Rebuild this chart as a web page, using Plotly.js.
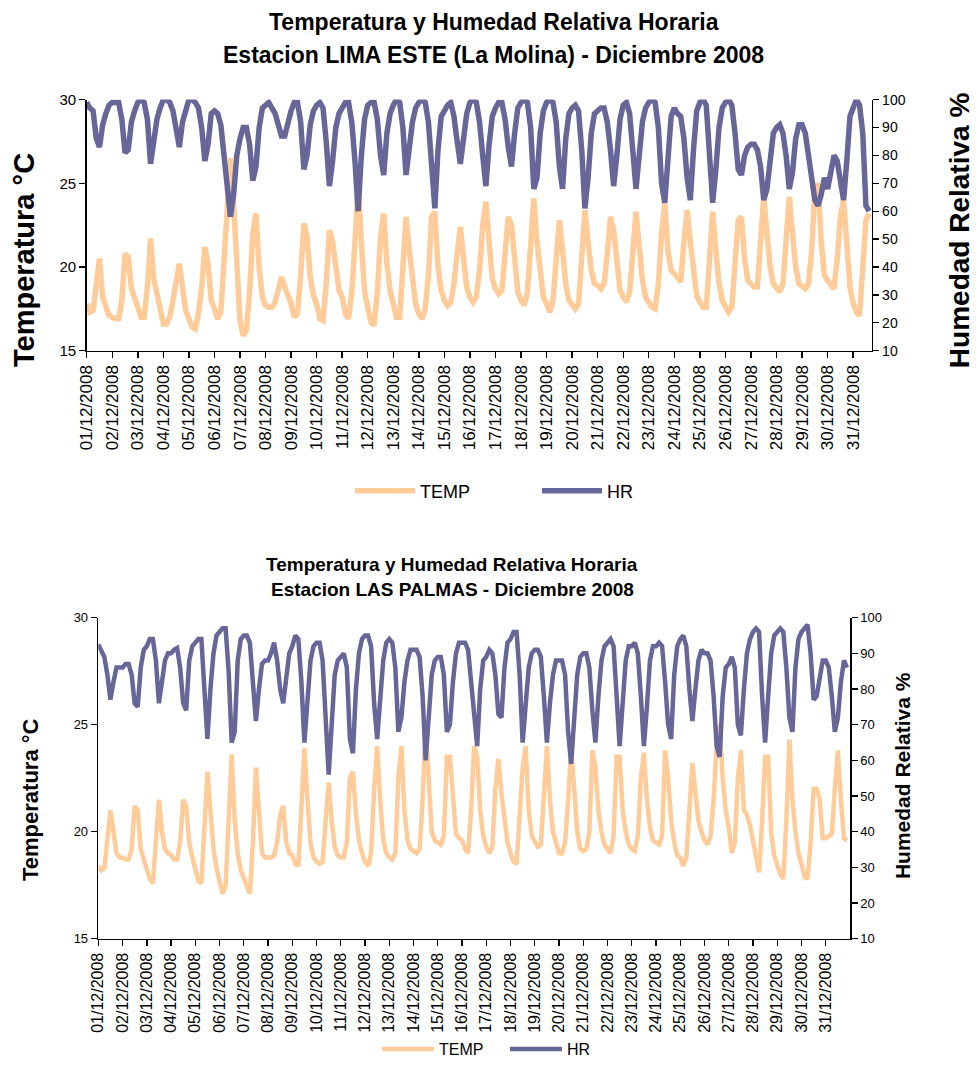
<!DOCTYPE html>
<html><head><meta charset="utf-8">
<script src="https://cdn.plot.ly/plotly-3.0.1.min.js"></script>
<style>html,body{margin:0;padding:0;background:#fff;}#chart{width:976px;height:1066px;}</style>
</head><body><div id="chart"></div>
<script>
// Day tick labels
const dayLabels = ["01/12/2008","02/12/2008","03/12/2008","04/12/2008","05/12/2008","06/12/2008","07/12/2008","08/12/2008","09/12/2008","10/12/2008","11/12/2008","12/12/2008","13/12/2008","14/12/2008","15/12/2008","16/12/2008","17/12/2008","18/12/2008","19/12/2008","20/12/2008","21/12/2008","22/12/2008","23/12/2008","24/12/2008","25/12/2008","26/12/2008","27/12/2008","28/12/2008","29/12/2008","30/12/2008","31/12/2008"];

// Readings every 3 hours (00,03,06,09,12,15,18,21 h), one row per day
// Estacion LIMA ESTE (La Molina)
const tempLaMolina = [
17.8,17.3,17.4,19.2,20.5,18.2,17.7,17.1,
17.0,16.9,16.9,18.0,20.8,20.6,18.7,18.0,
17.6,17.0,17.0,18.8,21.7,19.3,18.3,17.2,
16.6,16.6,17.0,18.0,19.3,20.2,18.8,17.4,
16.9,16.4,16.3,17.2,18.8,21.2,20.2,18.0,
17.5,16.9,17.3,20.5,24.5,26.5,23.8,19.5,
16.8,15.9,16.2,18.5,22.0,23.2,20.0,18.2,
17.7,17.6,17.6,17.9,18.8,19.4,18.8,18.3,
17.8,17.0,17.2,19.5,22.6,21.8,19.4,18.3,
17.8,16.9,16.8,19.0,22.2,21.5,20.0,18.6,
18.2,17.2,16.9,18.5,21.5,25.0,21.5,18.5,
17.6,16.7,16.5,18.5,21.8,23.2,20.2,18.6,
17.8,17.0,17.0,20.0,23.0,21.0,19.0,17.8,
17.2,16.9,17.5,19.5,23.0,23.3,20.0,18.6,
18.0,17.7,17.9,19.0,20.8,22.4,20.5,18.8,
18.2,17.9,18.2,19.8,22.5,23.9,21.5,19.3,
18.7,18.4,18.6,20.5,23.0,22.5,20.0,18.5,
18.0,17.7,18.5,21.5,24.1,21.5,19.5,18.2,
17.8,17.3,18.0,20.5,22.8,21.0,19.0,18.0,
17.8,17.5,17.8,21.0,23.4,21.5,19.8,19.0,
18.9,18.7,19.0,20.8,23.0,22.2,20.0,18.6,
18.2,17.9,18.5,21.0,23.3,21.2,19.2,18.2,
17.9,17.6,17.5,19.0,22.0,23.8,21.0,19.8,
19.6,19.3,19.1,21.5,23.4,21.5,19.5,18.3,
17.9,17.6,17.6,20.5,23.3,21.0,19.0,18.0,
17.6,17.3,17.6,19.8,22.8,23.0,20.5,19.2,
19.0,18.8,18.8,21.5,24.2,22.0,20.0,19.0,
18.8,18.5,19.0,21.8,24.2,22.0,20.0,19.0,
18.8,18.7,19.0,21.0,24.5,25.0,21.5,19.5,
19.2,18.9,18.7,20.5,23.0,24.0,21.0,18.8,
17.8,17.3,17.1,19.5,22.8,23.2
];
const hrLaMolina = [
99,97,96,86,83,91,95,98,
99,99,99,93,81,82,92,96,
99,100,99,93,77,85,93,97,
100,100,99,96,88,83,92,97,
100,100,99,97,90,78,84,95,
96,95,91,80,66,58,66,80,
86,90,90,84,71,76,90,97,
98,99,97,95,91,87,87,92,
96,99,99,92,75,80,91,96,
98,99,97,85,69,78,90,95,
97,99,99,92,78,60,80,93,
98,99,99,93,80,73,88,95,
98,100,99,90,73,82,92,97,
99,100,99,92,78,61,82,94,
96,98,99,94,85,77,86,95,
99,100,99,92,80,69,84,94,
97,99,99,93,83,76,88,97,
99,100,99,90,68,72,88,96,
99,100,99,92,76,68,86,95,
97,98,96,82,61,72,88,95,
96,97,97,92,82,69,80,93,
98,99,95,82,68,80,92,97,
99,100,99,90,70,63,82,94,
97,95,94,86,72,64,82,96,
99,100,98,82,63,75,90,97,
99,100,98,88,75,73,80,83,
84,84,82,76,64,68,80,88,
90,91,88,80,68,74,86,91,
91,88,80,72,64,62,66,72,
68,74,80,78,70,64,78,94,
97,100,98,88,62,60
];

// Estacion LAS PALMAS
const tempLasPalmas = [
18.4,18.2,18.3,19.5,21.0,20.0,19.0,18.8,
18.8,18.7,18.7,19.2,21.2,21.0,19.2,18.7,
18.2,17.8,17.6,19.5,21.5,20.0,19.2,19.0,
18.9,18.7,18.7,19.5,21.5,21.2,19.5,18.8,
18.2,17.7,17.6,20.0,22.8,21.0,19.2,18.3,
17.6,17.1,17.5,20.5,23.6,20.5,19.0,18.2,
17.8,17.4,17.1,19.5,23.0,21.0,19.0,18.8,
18.8,18.8,18.9,19.5,20.8,21.2,19.5,19.0,
18.9,18.5,18.4,21.0,23.9,21.5,19.5,18.8,
18.6,18.5,18.6,20.5,22.3,20.5,19.3,18.9,
18.8,18.8,19.5,22.5,22.8,20.8,19.6,19.0,
18.6,18.4,19.0,22.0,24.0,21.5,19.6,19.0,
18.8,18.7,19.0,22.5,24.0,21.0,19.6,19.2,
19.1,19.0,19.2,21.5,25.0,22.5,20.0,19.6,
19.5,19.4,19.8,23.5,23.5,21.5,19.9,19.7,
19.6,19.2,19.0,21.0,24.0,23.5,21.0,19.8,
19.3,19.0,19.3,22.0,23.4,21.8,20.5,19.5,
19.0,18.6,18.5,20.5,23.0,24.0,21.0,19.8,
19.5,19.3,19.4,21.5,24.0,21.5,20.0,19.5,
19.0,19.0,19.5,21.5,23.9,22.0,20.0,19.2,
19.1,19.2,20.0,23.8,23.0,21.0,20.0,19.4,
19.2,19.0,19.8,23.5,23.5,21.0,20.0,19.4,
19.2,19.1,19.8,22.5,23.7,21.5,20.2,19.6,
19.5,19.4,19.8,23.8,22.5,20.5,19.5,18.9,
18.8,18.4,18.8,21.0,23.2,21.8,20.5,20.0,
19.6,19.4,19.8,21.5,24.0,25.0,22.5,21.0,
20.2,19.0,19.5,22.5,23.8,21.0,20.8,20.3,
19.5,18.6,18.1,20.5,23.5,23.5,20.0,18.9,
18.5,18.0,17.8,20.5,24.3,21.5,20.0,19.0,
18.5,17.9,17.8,19.5,22.0,22.0,21.5,19.7,
19.7,19.8,19.9,22.0,23.8,21.5,19.7,19.6
];
const hrLasPalmas = [
92.5,91,89,84,77,82,86,86,
86,87,87,84,76,75,86,91,
92,94,94,88,76,82,88,90,
90,91,91.5,86,76,74,88,92,
93,94,94,82,66,80,90,95,
96,97,97,85,65,68,88,94,
95,95,93,82,71,80,87,88,
88,90,93,88,80,76,84,90,
92,95,94,82,65,78,88,92,
93,93,88,72,56,70,84,88,
89,90,86,66,62,80,90,94,
95,95,92,76,66,78,88,93,
94,93,86,68,72,82,88,91,
91,91,89,78,60,72,84,88,
89,89,84,68,70,82,90,93,
93,93,91,82,70,64,80,88,
89,91,90,84,73,72,86,93,
94,96,96,84,65,76,86,90,
91,91,89,78,65,76,84,88,
88,88,84,68,59,74,84,89,
90,90,86,74,65,78,88,92,
93,94,92,80,64,76,88,92,
92,93,90,78,64,75,88,92,
92,93,92,82,70,66,84,92,
94,95,92,80,71,80,88,91,
90,90,88,78,64,61,78,86,
87,89,86,70,67,80,90,94,
96,97,96,78,65,78,90,95,
96,97,96,86,72,68,86,94,
96,97,98,90,77,78,84,88,
88,86,78,68,72,82,88,86
];

const STEP_HOURS = 3;
const tempTicks = [15, 20, 25, 30];
const hrTicks = [10, 20, 30, 40, 50, 60, 70, 80, 90, 100];

const W = 976, H = 1066;
const fx = p => p / W;
const fy = p => 1 - p / H;
const hoursOf = arr => arr.map((_, i) => i * STEP_HOURS);
const dayTickPos = dayLabels.map((_, i) => i * 24);

const FONT = 'Liberation Sans, Arial, sans-serif';
const TEMP_COLOR = '#FFCC99';
const HR_COLOR = '#666699';

const traces = [
  {x: hoursOf(tempLaMolina), y: tempLaMolina, name: 'TEMP', type: 'scatter', mode: 'lines',
   line: {color: TEMP_COLOR, width: 5.5}, xaxis: 'x', yaxis: 'y', legend: 'legend'},
  {x: hoursOf(hrLaMolina), y: hrLaMolina, name: 'HR', type: 'scatter', mode: 'lines',
   line: {color: HR_COLOR, width: 5.5}, xaxis: 'x', yaxis: 'y2', legend: 'legend'},
  {x: hoursOf(tempLasPalmas), y: tempLasPalmas, name: 'TEMP', type: 'scatter', mode: 'lines',
   line: {color: TEMP_COLOR, width: 4.5}, xaxis: 'x2', yaxis: 'y3', legend: 'legend2'},
  {x: hoursOf(hrLasPalmas), y: hrLasPalmas, name: 'HR', type: 'scatter', mode: 'lines',
   line: {color: HR_COLOR, width: 4.5}, xaxis: 'x2', yaxis: 'y4', legend: 'legend2'}
];

const axisBase = {
  showline: true, linecolor: '#000', linewidth: 1.6, showgrid: false, zeroline: false,
  ticks: 'outside', ticklen: 6, tickwidth: 1.4, tickcolor: '#000'
};

const layout = {
  width: W, height: H,
  margin: {l: 0, r: 0, t: 0, b: 0},
  paper_bgcolor: '#fff', plot_bgcolor: '#fff',
  showlegend: true,
  xaxis: Object.assign({}, axisBase, {
    domain: [fx(86.7), fx(871.7)], anchor: 'y', range: [0, 737.4],
    tickvals: dayTickPos, ticktext: dayLabels, tickangle: -90,
    tickfont: {family: FONT, size: 17, color: '#000'}
  }),
  yaxis: Object.assign({}, axisBase, {
    domain: [fy(352), fy(100)], anchor: 'x', range: [15, 30], tickvals: tempTicks,
    tickfont: {family: FONT, size: 15, color: '#000'}
  }),
  yaxis2: Object.assign({}, axisBase, {
    overlaying: 'y', side: 'right', anchor: 'x', range: [10, 100], tickvals: hrTicks,
    tickfont: {family: FONT, size: 14, color: '#000'}
  }),
  xaxis2: Object.assign({}, axisBase, {
    domain: [fx(98.3), fx(850)], anchor: 'y3', range: [0, 744],
    tickvals: dayTickPos, ticktext: dayLabels, tickangle: -90,
    tickfont: {family: FONT, size: 16, color: '#000'}
  }),
  yaxis3: Object.assign({}, axisBase, {
    domain: [fy(942.3), fy(620)], anchor: 'x2', range: [15, 30], tickvals: tempTicks,
    tickfont: {family: FONT, size: 13, color: '#000'}
  }),
  yaxis4: Object.assign({}, axisBase, {
    overlaying: 'y3', side: 'right', anchor: 'x2', range: [10, 100], tickvals: hrTicks,
    tickfont: {family: FONT, size: 13, color: '#000'}
  }),
  legend: {
    orientation: 'h', x: fx(350), y: fy(493), xanchor: 'left', yanchor: 'middle',
    bgcolor: 'rgba(0,0,0,0)', font: {family: FONT, size: 18, color: '#000'},
    itemwidth: 60, entrywidth: 112, entrywidthmode: 'pixels', traceorder: 'normal'
  },
  legend2: {
    orientation: 'h', x: fx(377), y: fy(1053), xanchor: 'left', yanchor: 'middle',
    bgcolor: 'rgba(0,0,0,0)', font: {family: FONT, size: 16, color: '#000'},
    itemwidth: 52, entrywidth: 61, entrywidthmode: 'pixels', traceorder: 'normal'
  },
  annotations: [
    {text: '<b>Temperatura y Humedad Relativa Horaria</b>', xref: 'paper', yref: 'paper',
     x: fx(494), y: fy(22), xanchor: 'center', yanchor: 'middle', showarrow: false,
     font: {family: FONT, size: 23, color: '#000'}},
    {text: '<b>Estacion LIMA ESTE (La Molina) - Diciembre 2008</b>', xref: 'paper', yref: 'paper',
     x: fx(493), y: fy(55), xanchor: 'center', yanchor: 'middle', showarrow: false,
     font: {family: FONT, size: 23, color: '#000'}},
    {text: '<b>Temperatura °C</b>', xref: 'paper', yref: 'paper', textangle: -90,
     x: fx(24), y: fy(261), xanchor: 'center', yanchor: 'middle', showarrow: false,
     font: {family: FONT, size: 29, color: '#000'}},
    {text: '<b>Humedad Relativa %</b>', xref: 'paper', yref: 'paper', textangle: -90,
     x: fx(959), y: fy(231), xanchor: 'center', yanchor: 'middle', showarrow: false,
     font: {family: FONT, size: 28, color: '#000'}},
    {text: '<b>Temperatura y Humedad Relativa Horaria</b>', xref: 'paper', yref: 'paper',
     x: fx(452), y: fy(567), xanchor: 'center', yanchor: 'middle', showarrow: false,
     font: {family: FONT, size: 19, color: '#000'}},
    {text: '<b>Estacion LAS PALMAS - Diciembre 2008</b>', xref: 'paper', yref: 'paper',
     x: fx(452), y: fy(592), xanchor: 'center', yanchor: 'middle', showarrow: false,
     font: {family: FONT, size: 19, color: '#000'}},
    {text: '<b>Temperatura °C</b>', xref: 'paper', yref: 'paper', textangle: -90,
     x: fx(31), y: fy(803), xanchor: 'center', yanchor: 'middle', showarrow: false,
     font: {family: FONT, size: 22, color: '#000'}},
    {text: '<b>Humedad Relativa %</b>', xref: 'paper', yref: 'paper', textangle: -90,
     x: fx(902), y: fy(779), xanchor: 'center', yanchor: 'middle', showarrow: false,
     font: {family: FONT, size: 21, color: '#000'}}
  ]
};

Plotly.newPlot('chart', traces, layout, {staticPlot: true, displayModeBar: false});
</script>
</body></html>
